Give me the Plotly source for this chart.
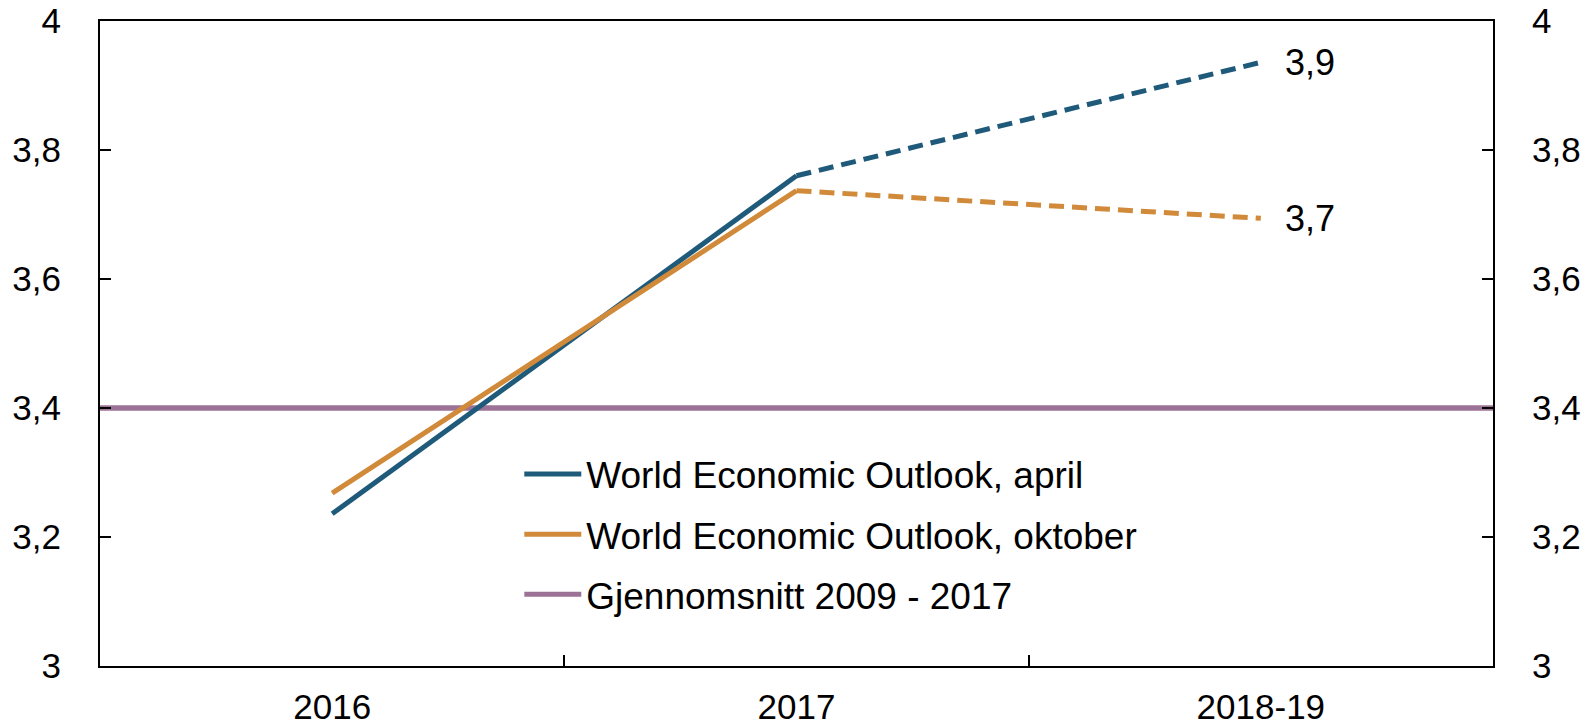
import plotly.graph_objects as go

categories = ["2016", "2017", "2018-19"]
april = [3.236, 3.76, 3.936]
oktober = [3.268, 3.737, 3.694]
average_value = [3.4]
end_labels = ["3,9", "3,7"]
y_ticks = [3, 3.2, 3.4, 3.6, 3.8, 4]

BLUE = "#1f5a7a"
ORANGE = "#d08a3a"
PURPLE = "#9c7397"
FONT = "Liberation Sans, Arial, sans-serif"
LW = 5

fig = go.Figure()

fig.add_trace(go.Scatter(x=categories[:2], y=april[:2], mode="lines",
                         line=dict(color=BLUE, width=LW),
                         name="World Economic Outlook, april",
                         legendgroup="a", legendrank=1))
fig.add_trace(go.Scatter(x=categories[1:], y=april[1:], mode="lines",
                         line=dict(color=BLUE, width=LW, dash="15px,8px"),
                         showlegend=False, legendgroup="a"))
fig.add_trace(go.Scatter(x=categories[:2], y=oktober[:2], mode="lines",
                         line=dict(color=ORANGE, width=LW),
                         name="World Economic Outlook, oktober",
                         legendgroup="o", legendrank=2))
fig.add_trace(go.Scatter(x=categories[1:], y=oktober[1:], mode="lines",
                         line=dict(color=ORANGE, width=LW, dash="15px,8px"),
                         showlegend=False, legendgroup="o"))
fig.add_trace(go.Scatter(x=[None], y=[None], mode="lines",
                         line=dict(color=PURPLE, width=LW),
                         name="Gjennomsnitt 2009 - 2017",
                         legendgroup="g", legendrank=3))
# anchor trace for the right-hand axis
fig.add_trace(go.Scatter(x=[categories[0]], y=[None], yaxis="y2", mode="lines",
                         showlegend=False, hoverinfo="skip"))

fig.add_shape(type="line", xref="x domain", x0=0, x1=1, yref="y",
              y0=average_value[0], y1=average_value[0],
              line=dict(color=PURPLE, width=5.5), layer="below")

for val, lab in zip([april[-1], oktober[-1]], end_labels):
    fig.add_annotation(x=categories[-1], y=val, text=lab, showarrow=False,
                       xanchor="left", yanchor="middle", xshift=22,
                       font=dict(size=36, color="black", family=FONT))

axis_common = dict(showline=True, linecolor="black", linewidth=2,
                   ticks="inside", ticklen=11, tickcolor="black", tickwidth=1.5,
                   showgrid=False, zeroline=False, automargin=False,
                   tickfont=dict(size=35, color="black", family=FONT))

fig.update_layout(
    width=1589, height=727,
    margin=dict(l=100, r=96, t=21, b=61),
    paper_bgcolor="white", plot_bgcolor="white",
    separators=", ",
    font=dict(family=FONT, size=35, color="black"),
    xaxis=dict(type="category", categoryorder="array", categoryarray=categories,
               range=[-0.5, 2.5], tickson="boundaries", ticklabelstandoff=9,
               mirror=True, **axis_common),
    yaxis=dict(range=[3, 4], tickvals=y_ticks, ticklabelstandoff=30,
               **axis_common),
    yaxis2=dict(range=[3, 4], tickvals=y_ticks, overlaying="y", side="right",
                ticklabelstandoff=30, **axis_common),
    legend=dict(x=0.301, y=0.345, xanchor="left", yanchor="top",
                bgcolor="rgba(0,0,0,0)", traceorder="grouped",
                tracegroupgap=9, itemwidth=57,
                font=dict(size=37, color="black", family=FONT)),
    showlegend=True,
)

fig.write_html("out.html", config={"displayModeBar": False},
               post_script="document.body.style.margin='0px';document.body.style.overflow='hidden';")
